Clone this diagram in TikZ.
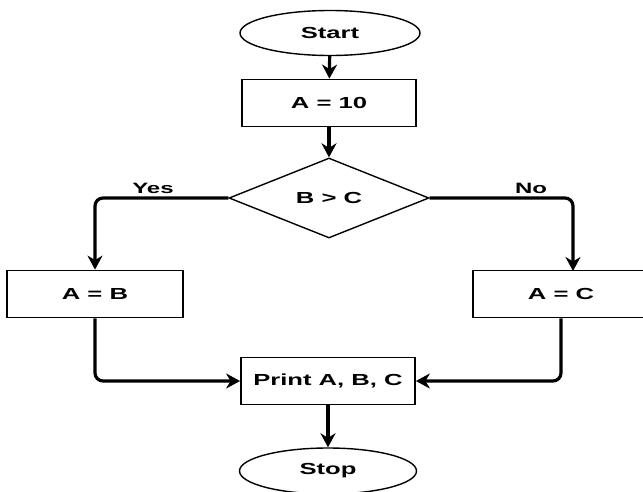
\documentclass[tikz,border=0pt]{standalone}
\usepackage{fontspec}
\setmainfont[FakeStretch=1.6]{Liberation Sans}
\usetikzlibrary{shapes.geometric,arrows.meta}
\begin{document}
\begin{tikzpicture}[x=1pt,y=-1pt,
  every node/.style={font=\fontsize{16}{19}\selectfont\bfseries, inner sep=0pt},
  term/.style={draw, ellipse, line width=1.4pt, minimum width=180pt, minimum height=45pt},
  procbox/.style={draw, rectangle, line width=1.8pt, minimum width=174pt, minimum height=47pt},
  decbox/.style={draw, diamond, line width=1.4pt, minimum width=200pt, minimum height=80pt},
  conn/.style={line width=3.2pt, rounded corners=8pt, -{Stealth[length=14pt,width=15pt,inset=4.5pt]}},
  lbl/.style={font=\fontsize{15}{18}\selectfont\bfseries}
]
\useasboundingbox (0,0) rectangle (643,491);
\clip (0,0) rectangle (643,491);
\node[term] (start) at (330,33) {Start};
\node[procbox] (a10) at (329,103) {A = 10};
\node[decbox] (dec) at (329,198) {B > C};
\node[procbox, minimum width=176pt] (ab) at (95,294) {A = B};
\node[procbox, minimum width=176pt] (ac) at (561,294) {A = C};
\node[procbox] (pr) at (328,381) {Print A, B, C};
\node[term, minimum width=177pt, minimum height=46pt] (stop) at (328,471) {Stop};
\coordinate (acin) at (573,271);
\draw[conn] (start) -- (a10);
\draw[conn] (a10) -- (dec);
\draw[conn] (dec.west) -| (ab.north);
\draw[conn] (dec.east) -| (acin);
\draw[conn] (ab.south) |- (pr.west);
\draw[conn] (ac.south) |- (pr.east);
\draw[conn] (pr) -- (stop);
\node[lbl] (yes) at (153,188) {Yes};
\node[lbl] (no) at (531,188) {No};
\end{tikzpicture}
\end{document}
